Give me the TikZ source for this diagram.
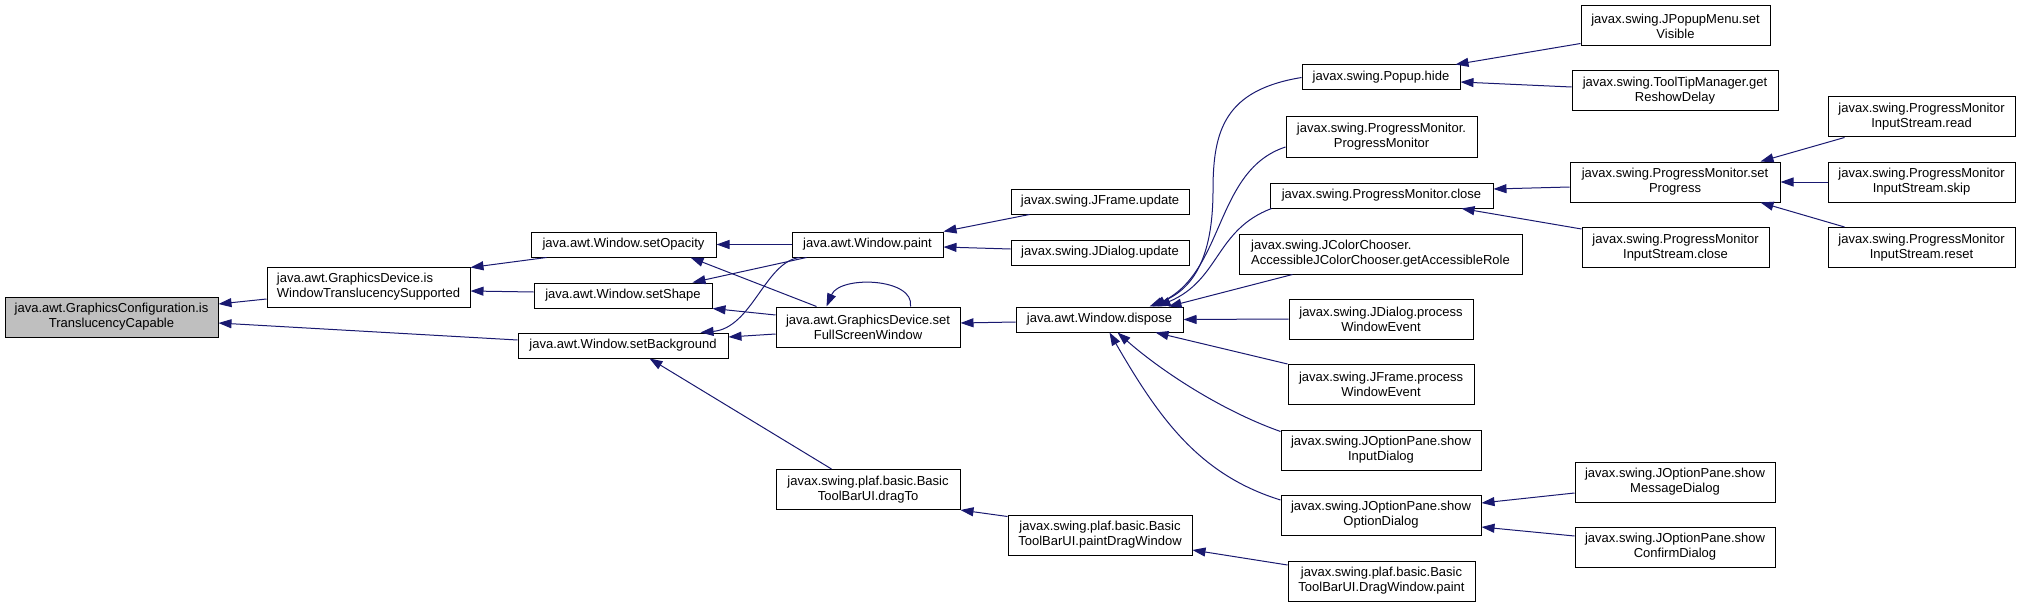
\documentclass[tikz,border=0pt]{standalone}
\usepackage{fontspec}
\setmainfont{Liberation Sans}
\usetikzlibrary{arrows.meta}
\definecolor{edgecol}{HTML}{191970}
\definecolor{rootfill}{HTML}{BFBFBF}
\begin{document}
\begin{tikzpicture}[x=1pt,y=-1pt,
  box/.style={draw=black, line width=1pt, fill=white, inner sep=0pt, align=center,
              font=\fontsize{13}{15}\selectfont},
  lbox/.style={box, align=left},
  one/.style={minimum height=25pt},
  two/.style={minimum height=40pt},
  edge/.style={draw=edgecol, line width=1pt, -{Triangle[length=13pt,width=9pt]}}]
\useasboundingbox (0,0) rectangle (2020,607);

% column 0
\node[box, two, fill=rootfill, minimum width=213pt] (root) at (111.5,317) {java.awt.GraphicsConfiguration.is\\TranslucencyCapable};
% column 1
\node[lbox, two, minimum width=203pt] (gdwts) at (368.5,287) {java.awt.GraphicsDevice.is\\WindowTranslucencySupported};
% column 2
\node[box, one, minimum width=185pt] (setOpacity) at (623.5,244.5) {java.awt.Window.setOpacity};
\node[box, one, minimum width=178pt] (setShape) at (623,295.5) {java.awt.Window.setShape};
\node[box, one, minimum width=210pt] (setBackground) at (623,345.5) {java.awt.Window.setBackground};
% column 3
\node[box, one, minimum width=151pt] (paint) at (867.5,244.5) {java.awt.Window.paint};
\node[box, two, minimum width=184pt] (fullscreen) at (868,327) {java.awt.GraphicsDevice.set\\FullScreenWindow};
\node[box, two, minimum width=184pt] (dragTo) at (868,489.5) {javax.swing.plaf.basic.Basic\\ToolBarUI.dragTo};
% column 4
\node[box, one, minimum width=178pt] (jfupdate) at (1100,201.5) {javax.swing.JFrame.update};
\node[box, one, minimum width=178pt] (jdupdate) at (1100,252.5) {javax.swing.JDialog.update};
\node[box, one, minimum width=167pt] (dispose) at (1099.5,319.5) {java.awt.Window.dispose};
\node[box, two, minimum width=184pt] (pdw) at (1100,535) {javax.swing.plaf.basic.Basic\\ToolBarUI.paintDragWindow};
% column 5
\node[box, one, minimum width=158pt] (popuphide) at (1381,77.5) {javax.swing.Popup.hide};
\node[box, two, minimum width=191pt] (pmpm) at (1381.5,137) {javax.swing.ProgressMonitor.\\ProgressMonitor};
\node[box, one, minimum width=223pt] (pmclose) at (1381.5,195.5) {javax.swing.ProgressMonitor.close};
\node[lbox, two, minimum width=283pt] (jcc) at (1380.5,254) {javax.swing.JColorChooser.\\AccessibleJColorChooser.getAccessibleRole};
\node[box, two, minimum width=184pt] (jdpwe) at (1381,319) {javax.swing.JDialog.process\\WindowEvent};
\node[box, two, minimum width=186pt] (jfpwe) at (1381,384.5) {javax.swing.JFrame.process\\WindowEvent};
\node[box, two, minimum width=200pt] (showinput) at (1381,450) {javax.swing.JOptionPane.show\\InputDialog};
\node[box, two, minimum width=200pt] (showoption) at (1381,515) {javax.swing.JOptionPane.show\\OptionDialog};
\node[box, two, minimum width=187pt] (dwpaint) at (1381.5,581) {javax.swing.plaf.basic.Basic\\ToolBarUI.DragWindow.paint};
% column 6
\node[box, two, minimum width=189pt] (jpmvisible) at (1675.5,26) {javax.swing.JPopupMenu.set\\Visible};
\node[box, two, minimum width=206pt] (tooltip) at (1675,91) {javax.swing.ToolTipManager.get\\ReshowDelay};
\node[box, two, minimum width=210pt] (setprogress) at (1675,182) {javax.swing.ProgressMonitor.set\\Progress};
\node[box, two, minimum width=187pt] (pmisclose) at (1675.5,247.5) {javax.swing.ProgressMonitor\\InputStream.close};
\node[box, two, minimum width=200pt] (showmessage) at (1675,482) {javax.swing.JOptionPane.show\\MessageDialog};
\node[box, two, minimum width=200pt] (showconfirm) at (1675,547) {javax.swing.JOptionPane.show\\ConfirmDialog};
% column 7
\node[box, two, minimum width=187pt] (pmisread) at (1921.5,117) {javax.swing.ProgressMonitor\\InputStream.read};
\node[box, two, minimum width=187pt] (pmisskip) at (1921.5,182) {javax.swing.ProgressMonitor\\InputStream.skip};
\node[box, two, minimum width=187pt] (pmisreset) at (1921.5,247.5) {javax.swing.ProgressMonitor\\InputStream.reset};

% edges
\draw[edge] ([yshift=-12pt]gdwts.west) -- ([yshift=13pt]root.east);
\draw[edge] ([yshift=5.5pt]setBackground.west) -- ([yshift=-6pt]root.east);
\draw[edge] ([xshift=16pt]setOpacity.south west) -- ([yshift=-1pt]gdwts.north east);
\draw[edge] ([yshift=3.5pt]setShape.west) -- ([yshift=-4pt]gdwts.east);
\draw[edge] (paint.west) -- (setOpacity.east);
\draw[edge] ([xshift=15pt]paint.south west) -- ([xshift=-20pt]setShape.north east);
\draw[edge] ([xshift=8pt]paint.south west) .. controls (765,262) and (752,328) .. ([xshift=-28pt]setBackground.north east);
\draw[edge] ([xshift=41pt]fullscreen.north west) -- ([xshift=-26pt]setOpacity.south east);
\draw[edge] ([yshift=12pt]fullscreen.west) -- (setShape.south east);
\draw[edge] ([yshift=-7pt]fullscreen.west) -- ([yshift=8.5pt]setBackground.east);
\draw[edge] ([xshift=-50pt]fullscreen.north east) .. controls (915,278) and (840,275) .. ([xshift=51pt]fullscreen.north west);
\draw[edge] ([yshift=-2.5pt]dispose.west) -- ([yshift=4pt]fullscreen.east);
\draw[edge] ([xshift=19pt]jfupdate.south west) -- (paint.north east);
\draw[edge] ([yshift=3.5pt]jdupdate.west) -- ([yshift=-2.5pt]paint.east);
\draw[edge] ([xshift=56pt]dragTo.north west) -- ([xshift=132pt]setBackground.south west);
\draw[edge] ([yshift=-2pt]pdw.north west) -- (dragTo.south east);
\draw[edge] ([yshift=16pt]dwpaint.west) -- ([yshift=-15pt]pdw.east);
\draw[edge] (popuphide.west) .. controls (1225,90) and (1213,130) .. (1213,190) .. controls (1213,260) and (1192,290) .. ([xshift=134pt]dispose.north west);
\draw[edge] ([yshift=-10pt]pmpm.west) .. controls (1215,170) and (1225,270) .. ([xshift=137pt]dispose.north west);
\draw[edge] ([xshift=2pt]pmclose.south west) .. controls (1215,230) and (1220,280) .. ([xshift=142pt]dispose.north west);
\draw[edge] ([xshift=54pt]jcc.south west) -- ([xshift=-15pt]dispose.north east);
\draw[edge] (jdpwe.west) -- (dispose.east);
\draw[edge] (jfpwe.north west) -- ([xshift=-28pt]dispose.south east);
\draw[edge] ([yshift=-2pt]showinput.north west) .. controls (1220,410) and (1160,370) .. ([xshift=102pt]dispose.south west);
\draw[edge] ([yshift=15pt]showoption.west) .. controls (1200,475) and (1160,420) .. ([xshift=94pt]dispose.south west);
\draw[edge] ([yshift=3pt]jpmvisible.south west) -- ([xshift=-5pt]popuphide.north east);
\draw[edge] ([yshift=4pt]tooltip.west) -- ([yshift=-4.5pt]popuphide.east);
\draw[edge] ([yshift=-5pt]setprogress.west) -- ([yshift=6.5pt]pmclose.east);
\draw[edge] ([yshift=-2pt]pmisclose.north west) -- ([xshift=-32pt]pmclose.south east);
\draw[edge] ([xshift=17pt]pmisread.south west) -- ([xshift=-20pt]setprogress.north east);
\draw[edge] (pmisskip.west) -- (setprogress.east);
\draw[edge] ([xshift=17pt]pmisreset.north west) -- ([xshift=-20pt]setprogress.south east);
\draw[edge] ([yshift=-11pt]showmessage.west) -- ([yshift=12pt]showoption.east);
\draw[edge] ([yshift=11pt]showconfirm.west) -- ([yshift=-12pt]showoption.east);
\end{tikzpicture}
\end{document}
